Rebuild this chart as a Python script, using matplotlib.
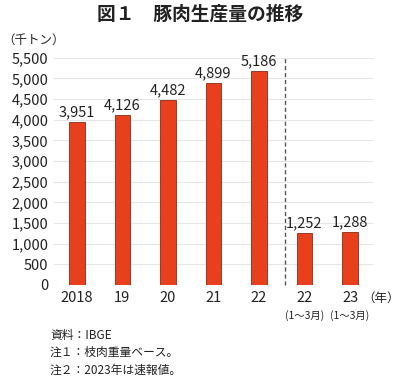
import matplotlib
matplotlib.use('Agg')
import matplotlib.pyplot as plt

plt.rcParams['font.family'] = ['Noto Sans CJK JP', 'DejaVu Sans']

# data
years = ['2018', '19', '20', '21', '22', '22', '23']
sub_labels = ['', '', '', '', '', '(1～3月)', '(1～3月)']
values = [3951, 4126, 4482, 4899, 5186, 1252, 1288]
yticks = [0, 500, 1000, 1500, 2000, 2500, 3000, 3500, 4000, 4500, 5000, 5500]

fig = plt.figure(figsize=(4.0, 3.83), dpi=100)
ax = fig.add_axes([0.135, 0.256, 0.797, 0.593])

x = list(range(len(values)))
ax.bar(x, values, width=0.34, color='#e8401c', edgecolor='#8a2a14', linewidth=0.6, zorder=3)
for xi, v in zip(x, values):
    ax.text(xi, v + 60, f'{v:,}', ha='center', va='bottom', fontsize=10.5, color='#222222')

ax.set_xlim(-0.5, 6.5)
ax.set_ylim(0, 5500)
ax.set_yticks(yticks)
ax.set_yticklabels([f'{t:,}' for t in yticks], fontsize=10.5, color='#222222')
ax.grid(axis='y', color='#e6e6e6', linewidth=0.8, zorder=0)
for s in ax.spines.values():
    s.set_visible(False)
ax.tick_params(axis='both', length=0, pad=4)
ax.set_xticks(x)
ax.set_xticklabels(years, fontsize=10.5, color='#222222')

# divider between annual and quarterly data
ax.plot([4.57, 4.57], [0, 5550], ls=(0, (3, 2)), color='#555555', lw=1, clip_on=False, zorder=4)

for xi, s in zip(x, sub_labels):
    if s:
        ax.text(xi, -620, s, ha='center', va='top', fontsize=7.5, color='#222222')

fig.text(0.5, 0.962, '図１　豚肉生産量の推移', ha='center', va='center',
         fontsize=13.5, fontweight='bold', color='#222222')
fig.text(0.005, 0.895, '（千トン）', ha='left', va='center', fontsize=9, color='#222222')
fig.text(0.999, 0.222, '（年）', ha='right', va='center', fontsize=9, color='#222222')

notes = ['資料：IBGE', '注１：枝肉重量ベース。', '注２：2023年は速報値。']
for i, n in enumerate(notes):
    fig.text(0.125, 0.125 - i * 0.046, n, ha='left', va='center', fontsize=8.5, color='#222222')

fig.savefig('out.png', dpi=100)
